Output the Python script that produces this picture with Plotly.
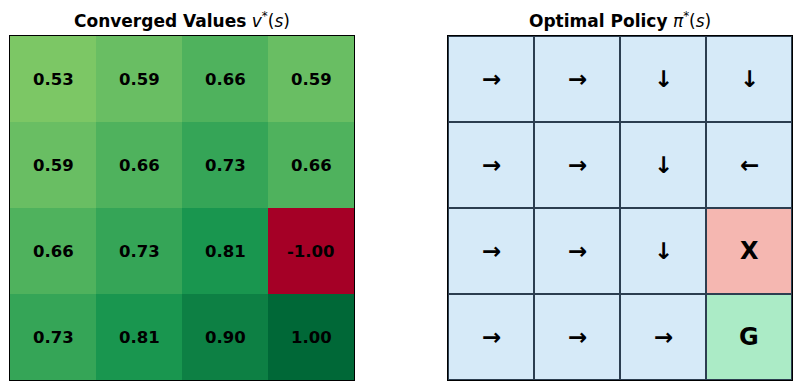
import plotly.graph_objects as go

# ---- data ----
rows = [0, 1, 2, 3]
cols = [0, 1, 2, 3]
values = [
    [0.53, 0.59, 0.66, 0.59],
    [0.59, 0.66, 0.73, 0.66],
    [0.66, 0.73, 0.81, -1.00],
    [0.73, 0.81, 0.90, 1.00],
]
policy = [
    ["→", "→", "↓", "↓"],
    ["→", "→", "↓", "←"],
    ["→", "→", "↓", "X"],
    ["→", "→", "→", "G"],
]
# cell kind: 0 normal, 1 trap, 2 goal
kinds = [
    [0, 0, 0, 0],
    [0, 0, 0, 0],
    [0, 0, 0, 1],
    [0, 0, 0, 2],
]
title_left = "<b>Converged Values</b> <i>v</i><sup>*</sup>(<i>s</i>)"
title_right = "<b>Optimal Policy</b> <i>π</i><sup>*</sup>(<i>s</i>)"

W, H = 801, 390
FONT = "DejaVu Sans"

fig = go.Figure()

fig.add_trace(go.Heatmap(
    z=values, x=cols, y=rows, zmin=-1, zmax=1, colorscale="RdYlGn",
    showscale=False, xaxis="x", yaxis="y", hoverinfo="z",
))

fig.add_trace(go.Heatmap(
    z=kinds, x=cols, y=rows, zmin=0, zmax=2,
    colorscale=[[0, "#D6EAF8"], [0.3333, "#D6EAF8"], [0.3334, "#F5B7B1"],
                [0.6666, "#F5B7B1"], [0.6667, "#ABEBC6"], [1, "#ABEBC6"]],
    showscale=False, xgap=2, ygap=2, xaxis="x2", yaxis="y2", hoverinfo="skip",
))

annotations = []
for r in rows:
    for c in cols:
        annotations.append(dict(
            x=c, y=r, xref="x", yref="y", text=f"<b>{values[r][c]:.2f}</b>",
            showarrow=False, font=dict(family=FONT, size=16.5, color="black")))
        p = policy[r][c]
        big = p in ("X", "G")
        annotations.append(dict(
            x=c, y=r, xref="x2", yref="y2", text=f"<b>{p}</b>",
            showarrow=False,
            font=dict(family=FONT, size=24 if big else 23, color="black")))

left_dom = [10 / W, 354 / W]
right_dom = [448 / W, 792 / W]
y_dom = [10 / H, 1 - 36 / H]

for dom, t in ((left_dom, title_left), (right_dom, title_right)):
    annotations.append(dict(
        x=(dom[0] + dom[1]) / 2, y=1 - 20 / H, xref="paper", yref="paper",
        text=t, showarrow=False, font=dict(family=FONT, size=17, color="black"),
        xanchor="center", yanchor="middle"))

axis_common = dict(showticklabels=False, ticks="", showgrid=False, zeroline=False,
                   showline=True, linecolor="black", linewidth=1, mirror=True)

fig.update_layout(
    width=W, height=H, margin=dict(l=0, r=0, t=0, b=0),
    paper_bgcolor="white", plot_bgcolor="#2C3E50",
    font=dict(family=FONT),
    xaxis=dict(domain=left_dom, range=[-0.5, 3.5], **axis_common),
    yaxis=dict(domain=y_dom, range=[3.5, -0.5], **axis_common),
    xaxis2=dict(domain=right_dom, range=[-0.5, 3.5], anchor="y2", **axis_common),
    yaxis2=dict(domain=y_dom, range=[3.5, -0.5], anchor="x2", **axis_common),
    annotations=annotations,
)

fig.write_html("out.html", config={"displayModeBar": False},
               post_script="document.body.style.margin='0';document.body.style.overflow='hidden';")
